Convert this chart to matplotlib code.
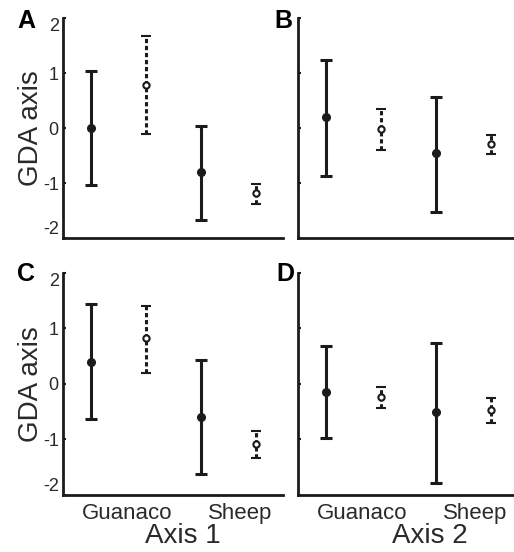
import numpy as np
import matplotlib.pyplot as plt

plt.rcParams['font.family'] = ['Liberation Sans', 'DejaVu Sans']

# groups: guanaco / sheep, two series per panel (solid = filled, dashed = open)
groups = ['Guanaco', 'Sheep']
panels = ['A', 'B', 'C', 'D']
xlabels = ['Axis 1', 'Axis 2']

# mean, lower end, upper end for each panel
solid_mean = {'A': [0.01, -0.80], 'B': [0.20, -0.45], 'C': [0.40, -0.59], 'D': [-0.14, -0.51]}
solid_lo = {'A': [-1.04, -1.67], 'B': [-0.87, -1.52], 'C': [-0.63, -1.62], 'D': [-0.98, -1.79]}
solid_hi = {'A': [1.05, 0.04], 'B': [1.25, 0.57], 'C': [1.43, 0.43], 'D': [0.68, 0.74]}

dash_mean = {'A': [0.78, -1.18], 'B': [-0.02, -0.29], 'C': [0.82, -1.09], 'D': [-0.23, -0.47]}
dash_lo = {'A': [-0.11, -1.37], 'B': [-0.39, -0.47], 'C': [0.20, -1.33], 'D': [-0.44, -0.71]}
dash_hi = {'A': [1.67, -1.01], 'B': [0.35, -0.13], 'C': [1.40, -0.84], 'D': [-0.05, -0.26]}

ink = '#1c1a1b'
W, H = 514, 552
fig = plt.figure(figsize=(W / 100, H / 100), dpi=100)

# axes boxes in pixels: left, top, right, bottom
boxes = {'A': (63, 18.3, 283, 238.3), 'B': (298, 18.3, 518, 238.3),
         'C': (63, 272.7, 283, 495), 'D': (298, 272.7, 518, 495)}
# panel letter positions (left, top) in pixels
letter_pos = {'A': (17, 9), 'B': (274, 9), 'C': (17, 262), 'D': (276, 262)}

for p in panels:
    l, t, r, b = boxes[p]
    ax = fig.add_axes([l / W, 1 - b / H, (r - l) / W, (b - t) / H])
    sm = np.array(solid_mean[p]); dm = np.array(dash_mean[p])
    ax.errorbar([1, 3], sm, yerr=[sm - np.array(solid_lo[p]), np.array(solid_hi[p]) - sm],
                fmt='o', color=ink, ms=5.5, lw=2.2, capsize=4.5, capthick=2.2, zorder=3)
    eb = ax.errorbar([2, 4], dm, yerr=[dm - np.array(dash_lo[p]), np.array(dash_hi[p]) - dm],
                     fmt='o', color=ink, mfc='white', mec=ink, mew=1.5, ms=4.5,
                     lw=2.2, capsize=3.5, capthick=2.2, zorder=3)
    eb[2][0].set_linestyle((0, (1.4, 0.9)))

    ax.set_xlim(0.49, 4.49)
    ax.set_ylim(-2, 2)
    for s in ['top', 'right']:
        ax.spines[s].set_visible(False)
    for s in ['left', 'bottom']:
        ax.spines[s].set_linewidth(2.0)
        ax.spines[s].set_color(ink)
    ax.set_yticks([-2, -1, 0, 1, 2])
    ax.tick_params(axis='y', direction='in', length=2.5, width=1.5, color=ink,
                   labelsize=13, labelcolor='#2a2a2a', pad=3)
    ax.tick_params(axis='x', length=0, labelsize=16, labelcolor='#2a2a2a', pad=6)

    if p in ('A', 'C'):
        ax.set_yticklabels(['-2', '-1', '0', '1', '2'])
        labs = ax.get_yticklabels()
        labs[0].set_va('bottom')
        labs[-1].set_va('top')
        ax.set_ylabel('GDA axis', fontsize=20, color='#2a2a2a', labelpad=-1)
    else:
        ax.set_yticklabels([])

    if p in ('C', 'D'):
        ax.set_xticks([1.65, 3.72])
        ax.set_xticklabels(groups)
    else:
        ax.set_xticks([])

    lx, ly = letter_pos[p]
    fig.text(lx / W, 1 - ly / H, p, fontsize=18, fontweight='bold',
             ha='left', va='top', color='black')

fig.text(183 / W, 1 - 536 / H, xlabels[0], fontsize=20, ha='center', va='center', color='#2a2a2a')
fig.text(430 / W, 1 - 536 / H, xlabels[1], fontsize=20, ha='center', va='center', color='#2a2a2a')

fig.savefig('out.png', dpi=100)
